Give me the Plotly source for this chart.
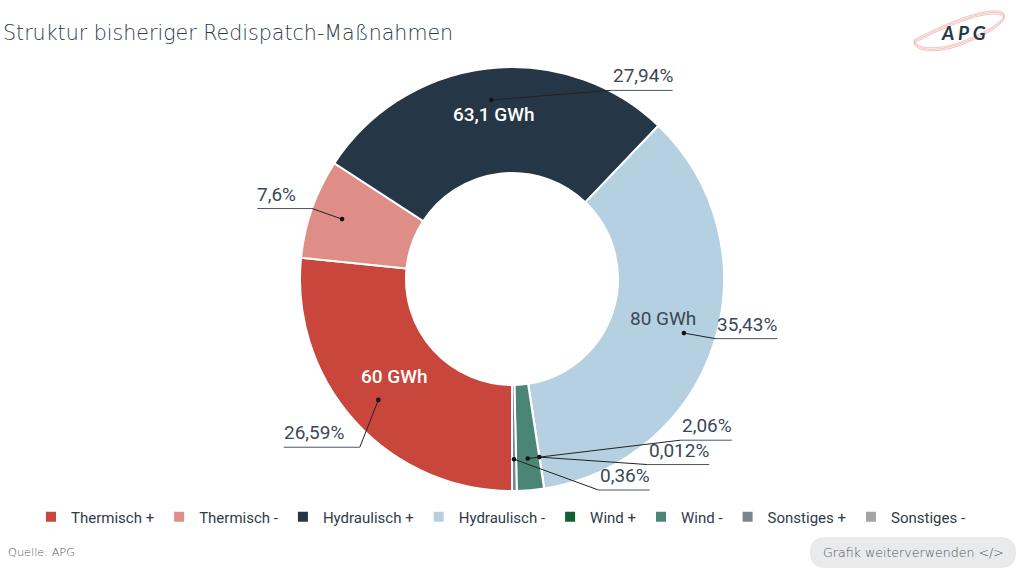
import math
import plotly.graph_objects as go

# ---------------- data ----------------
CATEGORIES = ["Thermisch +", "Thermisch -", "Hydraulisch +", "Hydraulisch -",
              "Wind +", "Wind -", "Sonstiges +", "Sonstiges -"]
SHARE_PCT = [26.59, 7.6, 27.94, 35.43, 0.012, 2.06, 0.36, 0.0]
ENERGY_GWH = [60, None, 63.1, 80, None, None, None, None]
COLORS = ["#C8463B", "#DE8E87", "#253746", "#B5D0E0",
          "#145F32", "#4B8575", "#7A858E", "#A3A4A6"]

TITLE = "Struktur bisheriger Redispatch-Maßnahmen"
SOURCE = "Quelle: APG"
BUTTON = "Grafik weiterverwenden </>"

# ---------------- layout constants ----------------
W, H = 1024, 576
CX, CY, R = 512, 279, 212
HOLE = 0.5
DOT_R = 0.85          # leader dot radius (fraction of R)
TXT_R = 0.745         # inside GWh label radius (fraction of R)
TXT_SHIFT_Y = -8      # px, inside label vertical offset
# label placement nudges in px (label layout, like the original's collision avoidance)
LABEL_NUDGE = [(5, 26), (0, 0), (123, 22), (1, -4), (103, -24), (150, -50), (84, -1), None]
PCT_FONT = 19
TEXT_COL = "#3A4858"
UI_FONT = "DejaVu Sans"


def X(px):
    return px / W


def Y(py):
    return 1 - py / H


def fmt_de(v):
    return f"{v:g}".replace(".", ",")


def text_w(s, size):
    w = 0
    for ch in s:
        if ch.isdigit():
            w += 0.5615
        elif ch == ",":
            w += 0.197
        elif ch == "%":
            w += 0.715
        else:
            w += 0.55
    return w * size


fig = go.Figure()

fig.add_trace(go.Pie(
    labels=CATEGORIES,
    values=SHARE_PCT,
    sort=False,
    direction="clockwise",
    rotation=180,
    hole=HOLE,
    textinfo="none",
    hoverinfo="label+percent",
    marker=dict(colors=COLORS, line=dict(color="white", width=2)),
    domain=dict(x=[X(CX - R), X(CX + R)], y=[Y(CY + R), Y(CY - R)]),
))

shapes = []
annotations = []

total = sum(SHARE_PCT)
cum = 0.0
for i, v in enumerate(SHARE_PCT):
    mid = (cum + v / 2) / total
    cum += v
    th = math.radians(360 * mid)
    dx, dy = -math.sin(th), math.cos(th)

    # inside value label
    if ENERGY_GWH[i] is not None:
        tx, ty = CX + dx * R * TXT_R, CY + dy * R * TXT_R + TXT_SHIFT_Y
        dark_bg = i in (0, 2)
        annotations.append(dict(
            x=X(tx), y=Y(ty), xref="paper", yref="paper", showarrow=False,
            text=f"{fmt_de(ENERGY_GWH[i])} GWh", xanchor="center", yanchor="middle",
            font=dict(family="Roboto", size=19, color="white" if dark_bg else TEXT_COL,
                      weight=500 if dark_bg else 400),
        ))

    if LABEL_NUDGE[i] is None or v <= 0:
        continue

    # dot
    px_, py_ = CX + dx * R * DOT_R, CY + dy * R * DOT_R
    # connection point of label
    nx, ny = LABEL_NUDGE[i]
    kx, ky = CX + dx * R + nx, CY + dy * R + ny
    label = fmt_de(v) + "%"
    tw = text_w(label, PCT_FONT)
    if kx >= CX:
        ux0, ux1 = kx, kx + tw + 2
        annotations.append(dict(
            x=X(kx), y=Y(ky - 1), xref="paper", yref="paper", showarrow=False,
            text=label, xanchor="left", yanchor="bottom",
            font=dict(family="Roboto", size=PCT_FONT, color=TEXT_COL)))
    else:
        tright = kx - 14
        ux0, ux1 = tright - tw - 2, kx
        annotations.append(dict(
            x=X(tright), y=Y(ky - 1), xref="paper", yref="paper", showarrow=False,
            text=label, xanchor="right", yanchor="bottom",
            font=dict(family="Roboto", size=PCT_FONT, color=TEXT_COL)))
    # underline
    shapes.append(dict(type="line", xref="paper", yref="paper",
                       x0=X(ux0), x1=X(ux1), y0=Y(ky), y1=Y(ky),
                       line=dict(color="#4A5664", width=1)))
    # leader
    shapes.append(dict(type="line", xref="paper", yref="paper",
                       x0=X(px_), x1=X(kx), y0=Y(py_), y1=Y(ky),
                       line=dict(color="#222", width=1)))
    # dot
    shapes.append(dict(type="circle", xref="paper", yref="paper",
                       x0=X(px_ - 2.3), x1=X(px_ + 2.3), y0=Y(py_ + 2.3), y1=Y(py_ - 2.3),
                       fillcolor="#111", line=dict(width=0)))

# title
annotations.append(dict(
    x=X(1), y=Y(33), xref="paper", yref="paper", showarrow=False, text=TITLE,
    xanchor="left", yanchor="middle",
    font=dict(family=UI_FONT, size=20.6, color="#2D3B4C", weight=200)))

# source
annotations.append(dict(
    x=X(6), y=Y(552), xref="paper", yref="paper", showarrow=False, text=SOURCE,
    xanchor="left", yanchor="middle",
    font=dict(family=UI_FONT, size=11.3, color="#555", weight=200)))

# button
bx0, bx1, by0, by1, br = 810, 1016, 537, 568, 15.5
pts = [
    f"M{X(bx0 + br)},{Y(by0)}", f"L{X(bx1 - br)},{Y(by0)}",
    f"Q{X(bx1)},{Y(by0)} {X(bx1)},{Y(by0 + br)}",
    f"L{X(bx1)},{Y(by1 - br)}",
    f"Q{X(bx1)},{Y(by1)} {X(bx1 - br)},{Y(by1)}",
    f"L{X(bx0 + br)},{Y(by1)}",
    f"Q{X(bx0)},{Y(by1)} {X(bx0)},{Y(by1 - br)}",
    f"L{X(bx0)},{Y(by0 + br)}",
    f"Q{X(bx0)},{Y(by0)} {X(bx0 + br)},{Y(by0)}", "Z",
]
shapes.append(dict(type="path", xref="paper", yref="paper", path=" ".join(pts),
                   fillcolor="#E9EAEC", line=dict(width=0), layer="below"))
annotations.append(dict(
    x=X((bx0 + bx1) / 2), y=Y((by0 + by1) / 2), xref="paper", yref="paper",
    showarrow=False, text=BUTTON, xanchor="center", yanchor="middle",
    font=dict(family=UI_FONT, size=12.6, color="#4F5358", weight=200)))

# logo (APG)
for off in (0, 1.5, 3):
    p = (f"M{X(914)},{Y(40 + off)} C{X(940)},{Y(26 + off)} {X(985)},{Y(6 + off)} {X(1002)},{Y(12 + off)} "
         f"C{X(1012)},{Y(17 + off)} {X(985)},{Y(34 + off)} {X(955)},{Y(44 + off)} "
         f"C{X(935)},{Y(50 + off)} {X(916)},{Y(49 + off)} {X(914)},{Y(40 + off)}")
    shapes.append(dict(type="path", xref="paper", yref="paper", path=p,
                       line=dict(color="#EDA8A2", width=0.7)))
annotations.append(dict(
    x=X(963), y=Y(33), xref="paper", yref="paper", showarrow=False,
    text="A P G", xanchor="center", yanchor="middle",
    font=dict(family="Lato", size=19, color="#253746", weight=700, style="italic")))

fig.update_layout(
    width=W, height=H,
    margin=dict(l=0, r=0, t=0, b=0),
    paper_bgcolor="white", plot_bgcolor="white",
    showlegend=True,
    legend=dict(orientation="h", x=0.5 - 11 / W, xanchor="center", y=Y(517), yanchor="middle",
                font=dict(family="Roboto", size=15, color="#2F3B48"),
                traceorder="normal"),
    shapes=shapes,
    annotations=annotations,
)

fig.write_html("out.html")
